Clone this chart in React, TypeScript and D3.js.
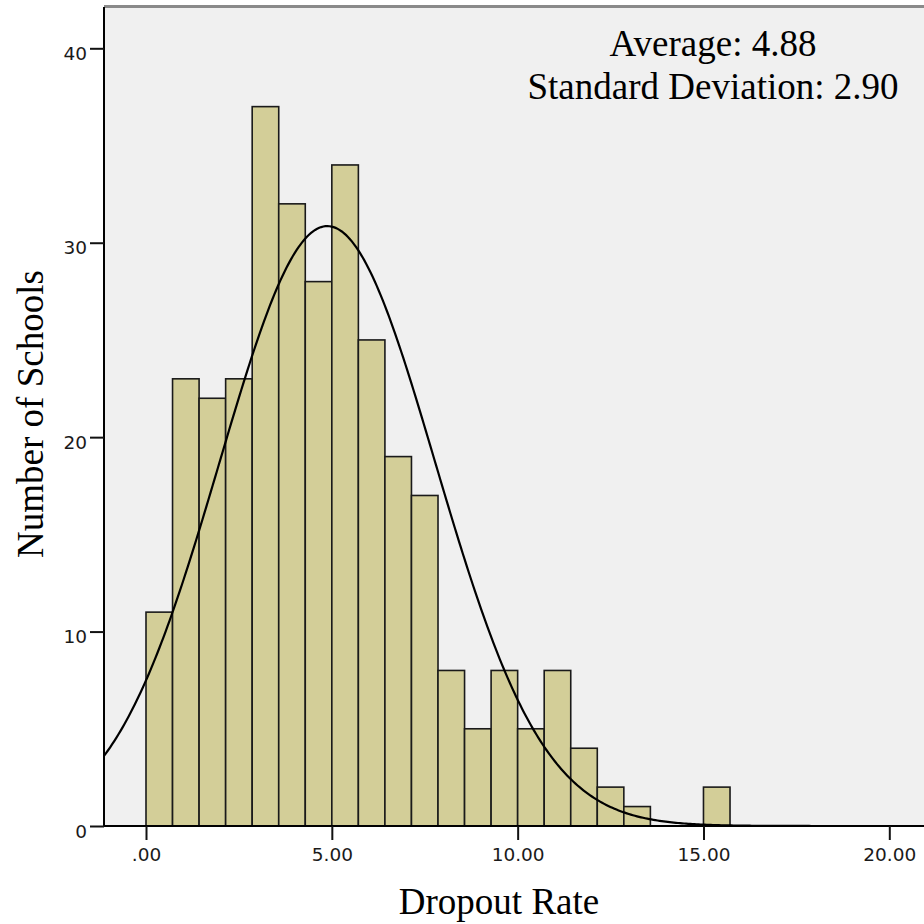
import { useEffect, useRef } from "react";
import * as d3 from "d3";

const BIN_WIDTH = 5 / 7;
const counts = [11, 23, 22, 23, 37, 32, 28, 34, 25, 19, 17, 8, 5, 8, 5, 8, 4, 2, 1, 0, 0, 2];
const xTicks = [0, 5, 10, 15, 20];
const xTickLabels = [".00", "5.00", "10.00", "15.00", "20.00"];
const yTicks = [0, 10, 20, 30, 40];
const MEAN = 4.88;
const SD = 2.9;

const W = 924;
const H = 924;
const PLOT = { left: 104, right: 924, top: 7, bottom: 826 };

const App = () => {
  const svgRef = useRef<SVGSVGElement | null>(null);

  const x = d3.scaleLinear().domain([0, 20]).range([146, 889.3]);
  const y = d3.scaleLinear().domain([0, 40]).range([826, 48.3]);

  // fitted normal curve, scaled to counts per bin
  const total = d3.sum(counts);
  const xMin = x.invert(PLOT.left);
  const xMax = x.invert(PLOT.right);
  const curvePts = d3.range(0, 401).map((i) => {
    const v = xMin + ((xMax - xMin) * i) / 400;
    const z = (v - MEAN) / SD;
    const c = (total * BIN_WIDTH * Math.exp(-0.5 * z * z)) / (SD * Math.sqrt(2 * Math.PI));
    return [v, c] as [number, number];
  });
  const line = d3
    .line<[number, number]>()
    .x((d) => x(d[0]))
    .y((d) => y(d[1]));

  useEffect(() => {
    const svg = d3.select(svgRef.current);

    const gx = svg.select<SVGGElement>("#x-axis");
    gx.selectAll("*").remove();
    gx.attr("transform", `translate(0, ${PLOT.bottom})`)
      .call(
        d3
          .axisBottom(x)
          .tickValues(xTicks)
          .tickSize(14)
          .tickPadding(8)
          .tickFormat((_, i) => xTickLabels[i])
      );
    gx.select(".domain").remove();
    gx.selectAll("line").attr("stroke", "#111").attr("stroke-width", 2);
    gx.selectAll("text")
      .attr("fill", "#1a1a1a")
      .attr("font-family", "DejaVu Sans")
      .attr("font-size", 18.5);

    const gy = svg.select<SVGGElement>("#y-axis");
    gy.selectAll("*").remove();
    gy.attr("transform", `translate(${PLOT.left}, 0)`)
      .call(d3.axisLeft(y).tickValues(yTicks).tickSize(14).tickPadding(3));
    gy.select(".domain").remove();
    gy.selectAll("line").attr("stroke", "#111").attr("stroke-width", 2);
    gy.selectAll("text")
      .attr("fill", "#1a1a1a")
      .attr("font-family", "DejaVu Sans")
      .attr("font-size", 18.5)
      .attr("dy", "0.6em");
  }, []);

  return (
    <svg
      ref={svgRef}
      width={W}
      height={H}
      style={{ position: "absolute", left: 0, top: 0, background: "#fff" }}
    >
      <defs>
        <clipPath id="plot-clip">
          <rect x={PLOT.left} y={PLOT.top} width={PLOT.right - PLOT.left} height={PLOT.bottom - PLOT.top} />
        </clipPath>
      </defs>
      <rect
        x={PLOT.left}
        y={PLOT.top}
        width={PLOT.right - PLOT.left}
        height={PLOT.bottom - PLOT.top}
        fill="#f0f0f0"
      />
      <line x1={PLOT.left} x2={PLOT.right} y1={PLOT.top - 0.5} y2={PLOT.top - 0.5} stroke="#8a8a8a" strokeWidth={3} />
      <g>
        {counts.map((c, i) =>
          c > 0 ? (
            <rect
              key={i}
              x={x(i * BIN_WIDTH)}
              y={y(c)}
              width={x((i + 1) * BIN_WIDTH) - x(i * BIN_WIDTH)}
              height={y(0) - y(c)}
              fill="#d3ce98"
              stroke="#1a1a1a"
              strokeWidth={1.6}
            />
          ) : null
        )}
      </g>
      <path
        d={line(curvePts) ?? ""}
        fill="none"
        stroke="#000"
        strokeWidth={2.2}
        clipPath="url(#plot-clip)"
      />
      <line x1={PLOT.left} x2={PLOT.left} y1={PLOT.top} y2={PLOT.bottom + 1} stroke="#000" strokeWidth={2} />
      <line x1={PLOT.left} x2={PLOT.right} y1={PLOT.bottom} y2={PLOT.bottom} stroke="#000" strokeWidth={2} />
      <g id="x-axis" />
      <g id="y-axis" />
      <g fontFamily="Liberation Serif" fontSize={37} fill="#000" textAnchor="middle">
        <text x={713} y={55.5}>Average: 4.88</text>
        <text x={713} y={98.5}>Standard Deviation: 2.90</text>
        <text x={499} y={914}>Dropout Rate</text>
        <text transform="translate(43, 414) rotate(-90)">Number of Schools</text>
      </g>
    </svg>
  );
};

export default App;
